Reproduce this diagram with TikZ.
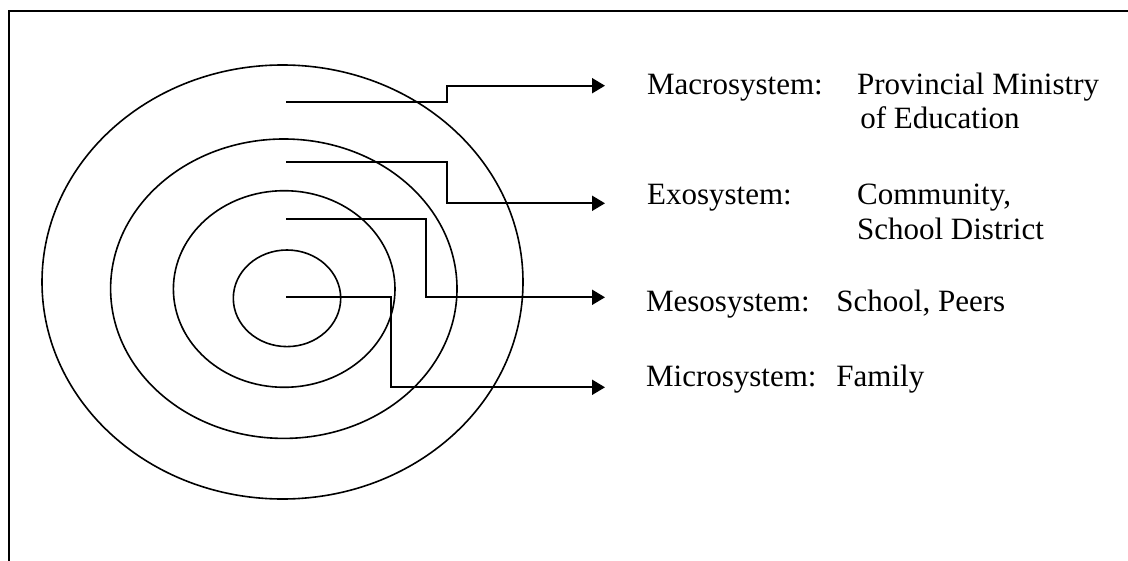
\documentclass[tikz,border=0pt]{standalone}
\usepackage{fontspec}
\setmainfont{Liberation Serif}
\usetikzlibrary{arrows.meta}
\begin{document}
\begin{tikzpicture}[x=0.5pt,y=-0.5pt,
  ring/.style={draw=black,line width=0.8pt},
  conn/.style={draw=black,line width=1pt,-{Triangle[length=6.5pt,width=7.5pt]}},
  lbl/.style={anchor=base west,inner sep=0pt,font=\fontsize{15.5}{17}\selectfont}]
\useasboundingbox (0,0) rectangle (1128,561);
% open frame: top and left edges
\draw[line width=1pt] (9,561) -- (9,11) -- (1128,11);

% nested system rings
\draw[ring] (282.5,282) ellipse [x radius=120.25pt, y radius=108.5pt];
\draw[ring] (283.8,288.7) ellipse [x radius=86.6pt, y radius=74.85pt];
\draw[ring] (284.2,289) ellipse [x radius=55.4pt, y radius=49.15pt];
\draw[ring] (287,298.3) ellipse [x radius=26.85pt, y radius=24.15pt];

% labels
\node[lbl] (macro) at (646.7,94.3) {Macrosystem:};
\node[lbl] (macroA) at (856.7,94.3) {Provincial Ministry};
\node[lbl] (macroB) at (860,128.3) {of Education};
\node[lbl] (exo) at (646.7,205) {Exosystem:};
\node[lbl] (exoA) at (856.7,205) {Community,};
\node[lbl] (exoB) at (856.7,239) {School District};
\node[lbl] (meso) at (645.7,311.7) {Mesosystem:};
\node[lbl] (mesoA) at (836,311.7) {School, Peers};
\node[lbl] (micro) at (645.7,386.7) {Microsystem:};
\node[lbl] (microA) at (836,386.7) {Family};

% connector points
\coordinate (s1) at (286,101.7);
\coordinate (j1) at (446.7,85.7);
\coordinate (t1) at (605,85.7);
\coordinate (s2) at (286,161.7);
\coordinate (j2) at (446.7,203.3);
\coordinate (t2) at (605,203.3);
\coordinate (s3) at (286,219.3);
\coordinate (j3) at (425.7,297.3);
\coordinate (t3) at (605,297.3);
\coordinate (s4) at (286,297.3);
\coordinate (j4) at (390.7,387.3);
\coordinate (t4) at (605,387.3);

% connectors from rings to labels
\draw[conn] (s1) -| (j1) -- (t1);
\draw[conn] (s2) -| (j2) -- (t2);
\draw[conn] (s3) -| (j3) -- (t3);
\draw[conn] (s4) -| (j4) -- (t4);
\end{tikzpicture}
\end{document}
